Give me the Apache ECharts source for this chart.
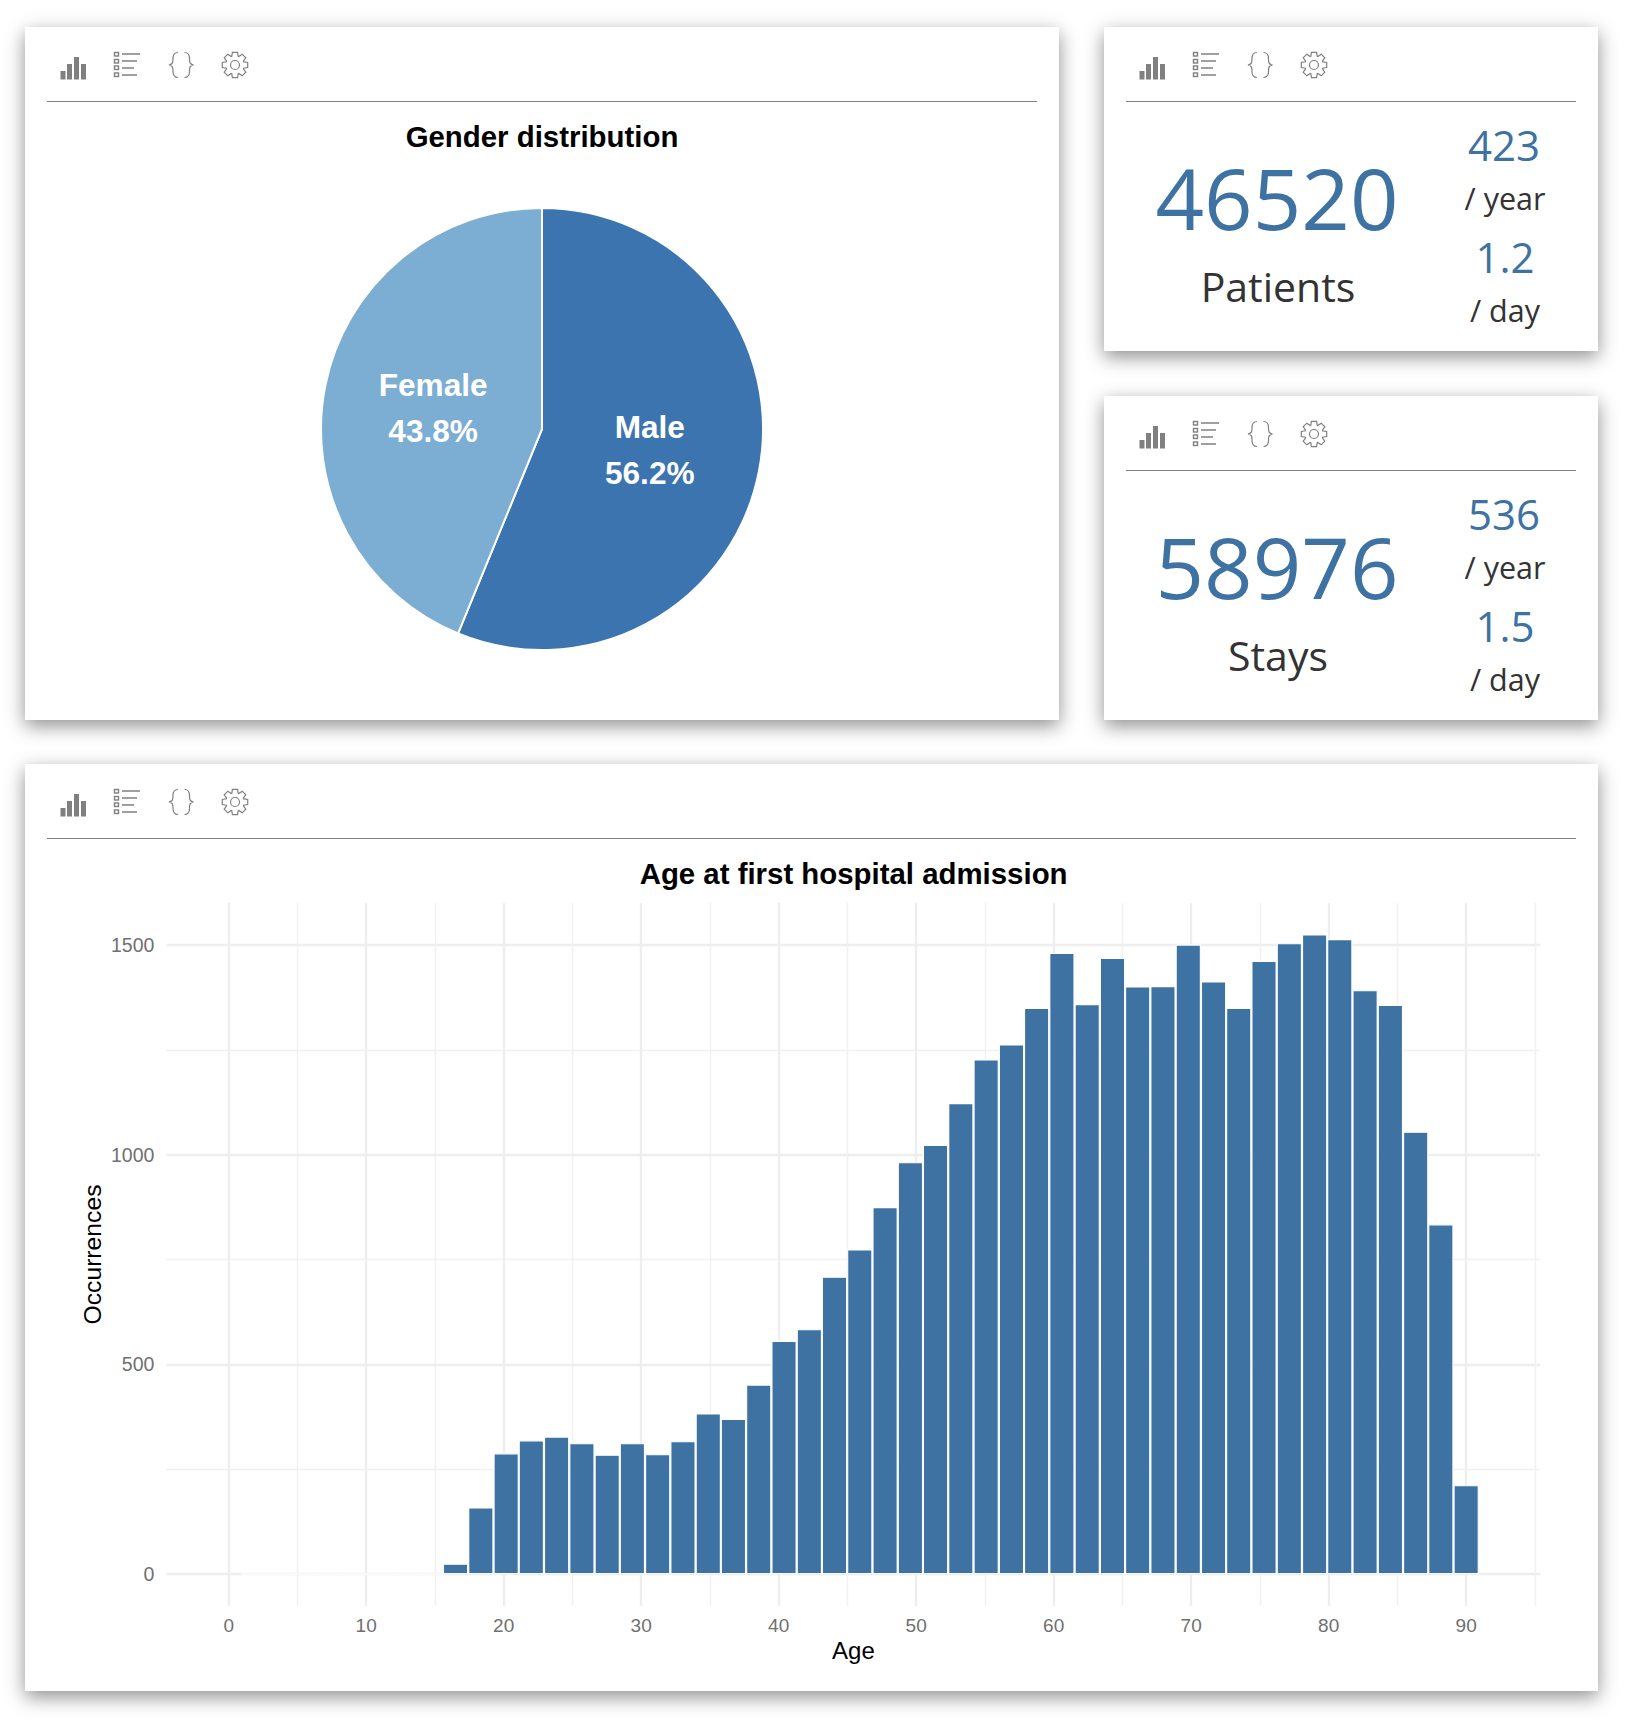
<!DOCTYPE html>
<html><head><meta charset="utf-8">
<style>
html,body{margin:0;padding:0;background:#fff;width:1628px;height:1722px;overflow:hidden}
.card{position:absolute;background:#fff;box-shadow:0 6px 18px rgba(0,0,0,.44)}
#chart{position:absolute;left:0;top:0;width:1628px;height:1722px}
.divider{position:absolute;height:1px;background:#808080}
.kpi{position:absolute;font-family:"Open Sans",sans-serif;text-align:center;white-space:nowrap;transform:translateX(-50%);line-height:1}
.blue{color:#3e72a2}.dark{color:#333}
svg.icons{position:absolute;overflow:visible}
</style></head><body>
<div id="cards"></div>
<div id="chart"></div>
<script src="https://cdn.jsdelivr.net/npm/echarts@6/dist/echarts.min.js"></script>
<script>
const genderNames = ["Male","Female"];
const genderShares = [56.2,43.8];
const binCenters = [1.8,3.64,5.48,7.31,9.15,10.99,12.83,14.66,16.5,18.34,20.18,22.01,23.85,25.69,27.53,29.36,31.2,33.04,34.88,36.71,38.55,40.39,42.23,44.06,45.9,47.74,49.58,51.41,53.25,55.09,56.93,58.76,60.6,62.44,64.28,66.11,67.95,69.79,71.63,73.46,75.3,77.14,78.98,80.81,82.65,84.49,86.33,88.16,90];
const binCounts = [0,0,0,0,0,0,0,0,25,159,288,319,328,312,285,312,286,317,383,370,452,556,584,709,774,875,982,1023,1123,1227,1263,1350,1481,1359,1469,1401,1402,1501,1413,1350,1462,1504,1525,1514,1392,1357,1055,834,212];
const xMajor = [0,10,20,30,40,50,60,70,80,90];
const xMinor = [5,15,25,35,45,55,65,75,85,95];
const yMajor = [0,500,1000,1500];
const yMinor = [250,750,1250];
const kpis = [
 {top:0,total:"46520",label:"Patients",year:"423",day:"1.2"},
 {top:369,total:"58976",label:"Stays",year:"536",day:"1.5"}
];

const host=document.getElementById('cards');
function card(l,t,r,b,lineL,lineR){
  const d=document.createElement('div');d.className='card';
  d.style.cssText=`left:${l}px;top:${t}px;width:${r-l}px;height:${b-t}px`;host.appendChild(d);
  const ln=document.createElement('div');ln.className='divider';
  ln.style.cssText=`left:${lineL}px;top:${t+74}px;width:${lineR-lineL}px`;host.appendChild(ln);
  icons(l,t);
}
function gearPath(cx,cy){
  let p='';const n=8;
  for(let i=0;i<n;i++){
    const a=i/n*2*Math.PI;
    const pts=[[9.2,-0.36],[13,-0.2],[13,0.2],[9.2,0.36]];
    pts.forEach((q,j)=>{const x=cx+q[0]*Math.cos(a+q[1]),y=cy+q[0]*Math.sin(a+q[1]);p+=(i==0&&j==0?'M':'L')+x.toFixed(1)+' '+y.toFixed(1);});
  }
  return p+'Z';
}
function icons(l,t){
  const s=`<svg class="icons" style="left:${l}px;top:${t}px" width="260" height="74" viewBox="0 0 260 74">
  <g fill="#808080">
   <rect x="35.5" y="44" width="5" height="8.5"/><rect x="42" y="37" width="5" height="15.5"/><rect x="49" y="30" width="5" height="22.5"/><rect x="56" y="37" width="5" height="15.5"/>
  </g>
  <g fill="none" stroke="#808080" stroke-width="1.4">
   <rect x="89.5" y="25.5" width="4" height="3.5"/><rect x="89.5" y="32.5" width="4" height="3.5"/><rect x="89.5" y="39" width="4" height="3.5"/><rect x="89.5" y="46" width="4" height="3.5"/>
   <path d="M97 27h18M97 34h15M97 41h12M97 48h15"/>
   <path stroke-width="1.2" d="M153 25.5c-4 0-5 2-5 6s0 5.500-4 6.500c4 1 4 2.500 4 6.500s1 6 5 6M159.500 25.500c4 0 5 2 5 6s0 5.500 4 6.500c-4 1-4 2.500-4 6.500s-1 6-5 6"/>
   <path stroke-width="1.2" d="${gearPath(210,38)}"/><circle cx="210" cy="38" r="4.5" stroke-width="1.2"/>
  </g></svg>`;
  host.insertAdjacentHTML('beforeend',s);
}
card(25,27,1059,720,47,1037);
card(1104,27,1598,351,1126,1576);
card(1104,396,1598,720,1126,1576);
card(25,764,1598,1691,47,1576);
function kpi(txt,cx,top,size,cls){
  const d=document.createElement('div');d.className='kpi '+cls;d.textContent=txt;
  d.style.cssText=`left:${cx}px;top:${top}px;font-size:${size}px`;host.appendChild(d);
}
kpis.forEach(k=>{
  kpi(k.total,1277,k.top+155,85,'blue');
  kpi(k.label,1278,k.top+266,41,'dark');
  kpi(k.year,1504,k.top+124,42,'blue');
  kpi(k.day,1505,k.top+236,42,'blue');
  kpi('/ year',1505,k.top+183,30.5,'dark');
  kpi('/ day',1505,k.top+295,30.5,'dark');
});

const sans='"Liberation Sans",Arial,sans-serif';
const tick=(arr,w,c)=>({
  axisLine:{show:false},
  axisTick:{show:false,customValues:arr},
  splitLine:{show:true,lineStyle:{color:c,width:w}}
});
const xRange={min:-4.53,max:95.4}, yRange={min:-76,max:1600};
const plain=v=>String(v);
const chart=echarts.init(document.getElementById('chart'),null,{renderer:'svg'});
chart.setOption({
  animation:false,
  backgroundColor:'transparent',
  title:[
   {text:'Gender distribution',left:542,top:121.5,padding:0,textAlign:'center',textStyle:{fontFamily:sans,fontWeight:'bold',fontSize:29.4,color:'#000'}},
   {text:'Age at first hospital admission',left:853.6,top:858.5,padding:0,textAlign:'center',textStyle:{fontFamily:sans,fontWeight:'bold',fontSize:29.4,color:'#000'}}
  ],
  grid:{left:166.4,right:87.6,top:903,bottom:116},
  xAxis:[
   Object.assign({type:'value',position:'bottom',...xRange,name:'Age',nameLocation:'middle',nameGap:32,nameMoveOverlap:false,
     nameTextStyle:{fontFamily:sans,fontSize:24,color:'#000'},
     axisLabel:{customValues:xMajor,formatter:plain,margin:10,fontFamily:sans,fontSize:19,color:'#707070'}},tick(xMajor,2.4,'#eeeeee')),
   Object.assign({type:'value',position:'bottom',...xRange,axisLabel:{show:false}},tick(xMinor,1.4,'#f1f1f1'))
  ],
  yAxis:[
   Object.assign({type:'value',...yRange,name:'Occurrences',nameLocation:'middle',nameGap:61,nameRotate:90,nameMoveOverlap:false,
     nameTextStyle:{fontFamily:sans,fontSize:24.7,color:'#000'},
     axisLabel:{customValues:yMajor,formatter:plain,margin:12,fontFamily:sans,fontSize:19.5,color:'#707070'}},tick(yMajor,2.4,'#eeeeee')),
   Object.assign({type:'value',...yRange,axisLabel:{show:false}},tick(yMinor,1.4,'#f1f1f1'))
  ],
  series:[
   {type:'pie',center:[542,429],radius:[0,221],startAngle:90,clockwise:true,silent:true,
    data:genderNames.map((n,i)=>({name:n,value:genderShares[i],itemStyle:{color:i==0?'#3b74af':'#7cadd3'}})),
    itemStyle:{borderColor:'#fff',borderWidth:2},
    labelLine:{show:false},
    labelLayout:p=>({dx:p.dataIndex==0?-3.6:2.5,dy:p.dataIndex==0?-1:1}),
    label:{position:'inside',formatter:p=>p.name+'\n'+p.value.toFixed(1)+'%',fontFamily:sans,fontWeight:'bold',fontSize:31.6,lineHeight:46,color:'#fff'}
   },
   {type:'bar',xAxisIndex:0,yAxisIndex:0,barWidth:25.25,silent:true,
    data:binCenters.map((c,i)=>[c,binCounts[i]]),
    itemStyle:{color:'#3e72a2',borderColor:'#fff',borderWidth:1.1}}
  ]
});
</script></body></html>
